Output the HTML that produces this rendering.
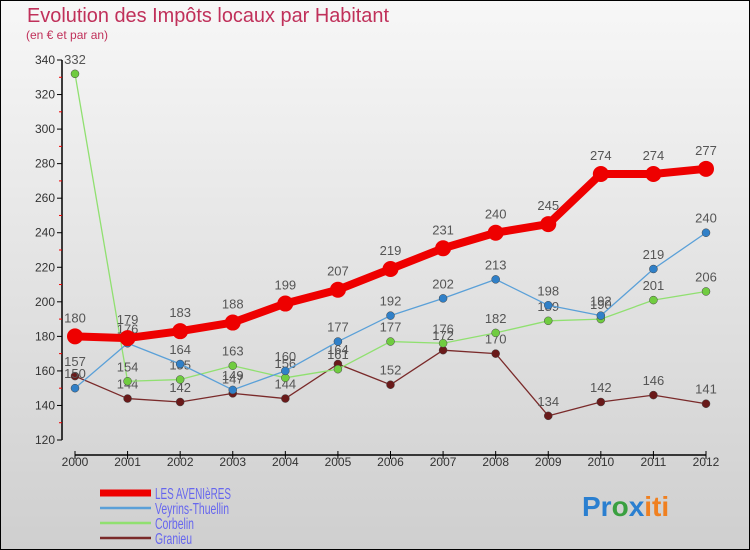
<!DOCTYPE html>
<html><head><meta charset="utf-8">
<style>
html,body{margin:0;padding:0}
body{width:750px;height:550px;overflow:hidden;font-family:"Liberation Sans",sans-serif}
#wrap{position:absolute;left:0;top:0;width:748px;height:548px;border:1px solid #000;background:linear-gradient(#f7f7f7,#cfcfcf)}
</style></head>
<body>
<div id="wrap">
<svg id="chart" width="750" height="550" style="position:absolute;left:-1px;top:-1px">
<text x="27" y="22" font-size="20" fill="#c0305a" textLength="362" lengthAdjust="spacingAndGlyphs">Evolution des Impôts locaux par Habitant</text>
<text x="26" y="39" font-size="12" fill="#c0305a">(en € et par an)</text>
<g id="axes"></g>
<g id="series"></g>
<g id="legend"></g>
<text x="582" y="516" font-size="28" font-weight="bold"><tspan fill="#2a7fd0">Pr</tspan><tspan fill="#3aa040">o</tspan><tspan fill="#2a7fd0">x</tspan><tspan fill="#f08020">iti</tspan></text>
</svg>
</div>
<script>
const years=[2000,2001,2002,2003,2004,2005,2006,2007,2008,2009,2010,2011,2012];
const yTicks=[120,140,160,180,200,220,240,260,280,300,320,340];
const avenieres=[180,179,183,188,199,207,219,231,240,245,274,274,277];
const veyrins=[150,176,164,149,160,177,192,202,213,198,192,219,240];
const corbelin=[332,154,155,163,156,161,177,176,182,189,190,201,206];
const granieu=[157,144,142,147,144,164,152,172,170,134,142,146,141];
const NS="http://www.w3.org/2000/svg";
function X(i){return 75+i*(706-75)/(years.length-1);}
function Y(v){return 440-(v-120)*(380/220);}
function mk(tag,attrs,parent){const e=document.createElementNS(NS,tag);for(const k in attrs)e.setAttribute(k,attrs[k]);parent.appendChild(e);return e;}
const axes=document.getElementById('axes');
const ya=mk('line',{x1:62,y1:Y(340),x2:62,y2:Y(120),stroke:'#000','stroke-width':1.5},axes);


yTicks.forEach(v=>{
  mk('line',{x1:57,y1:Y(v),x2:62,y2:Y(v),stroke:'#000'},axes);
  if(v<340) mk('line',{x1:59,y1:Y(v+10),x2:62,y2:Y(v+10),stroke:'#e00'},axes);
  const t=mk('text',{x:55,y:Y(v)+4,'text-anchor':'end','font-size':12,fill:'#333'},axes);
  t.textContent=v;
  
  
});
const xa=mk('line',{x1:X(0),y1:455,x2:X(12),y2:455,stroke:'#000','stroke-width':1.5},axes);


years.forEach((yr,i)=>{
  mk('line',{x1:X(i),y1:451,x2:X(i),y2:459,stroke:'#000'},axes);
  const t=mk('text',{x:X(i),y:466,'text-anchor':'middle','font-size':12,fill:'#333'},axes);
  t.textContent=yr;
  
  
});
const series=[
 {name:'granieu',label:'Granieu',data:granieu,color:'#7a2a2a',dot:'#6a1a1a',w:1.3,r:4,len:37},
 {name:'corbelin',label:'Corbelin',data:corbelin,color:'#90e070',dot:'#70cc40',w:1.3,r:4,len:39},
 {name:'veyrins-thuellin',label:'Veyrins-Thuellin',data:veyrins,color:'#5aa0d8',dot:'#3080c8',w:1.3,r:4,len:74},
 {name:'les-avenieres',label:'LES AVENIèRES',data:avenieres,color:'#ee0000',dot:'#ee0000',w:8,r:8,len:76}
];
const sg=document.getElementById('series');
series.forEach(s=>{
  const g=mk('g',{},sg);
  
  
  const pts=s.data.map((v,i)=>X(i)+','+Y(v)).join(' ');
  const pl=mk('polyline',{points:pts,fill:'none',stroke:s.color,'stroke-width':s.w,'stroke-linejoin':'round'},g);
  
  
  s.data.forEach((v,i)=>{
    const c=mk('circle',{cx:X(i),cy:Y(v),r:s.r,fill:s.dot,stroke:s.name==='les-avenieres'?'none':'#444','stroke-width':0.5},g);
    
    
    const t=mk('text',{x:X(i),y:Y(v)-(s.r+6),'text-anchor':'middle','font-size':13,fill:'#555'},g);
    t.textContent=v;
    
    
  });
});
const lg=document.getElementById('legend');
const leg=[series[3],series[2],series[1],series[0]];
leg.forEach((s,i)=>{
  const y=493+i*15;
  const l=mk('line',{x1:100,y1:y,x2:151,y2:y,stroke:s.color,'stroke-width':s.name==='les-avenieres'?7:2.5},lg);
  
  
  const t=mk('text',{x:155,y:y+6,'font-size':16,fill:'#6666ee',textLength:s.len,lengthAdjust:'spacingAndGlyphs'},lg);
  t.textContent=s.label;
  
  
});
</script>
</body></html>
